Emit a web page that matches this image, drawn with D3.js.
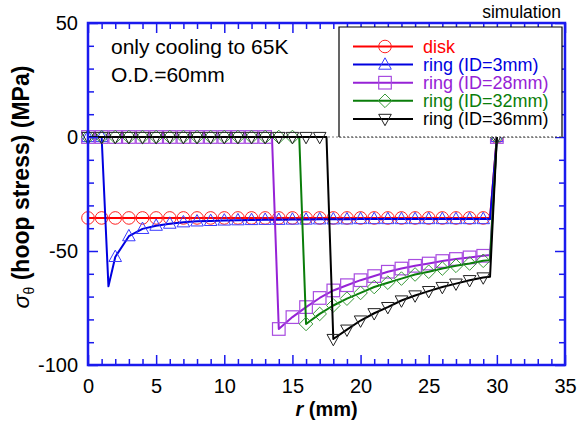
<!DOCTYPE html>
<html>
<head>
<meta charset="utf-8">
<script src="https://cdn.jsdelivr.net/npm/d3@7"></script>
<style>
  body { margin: 0; background: #fff; }
  svg { font-family: "Liberation Sans", Arial, Helvetica, sans-serif; }
</style>
</head>
<body>
<svg id="chart" width="579" height="427"></svg>
<script>
// values (MPa), r in mm
var disk_r = [0,1,2,3,4,5,6,7,8,9,10,11,12,13,14,15,16,17,18,19,20,21,22,23,24,25,26,27,28,29,29.5,30];
var disk_v = [-35.5,-35.5,-35.5,-35.5,-35.5,-35.5,-35.5,-35.5,-35.5,-35.5,-35.5,-35.5,-35.5,-35.5,-35.5,-35.5,
              -35.5,-35.5,-35.5,-35.5,-35.5,-35.5,-35.5,-35.5,-35.5,-35.5,-35.5,-35.5,-35.5,-35.5,-35.5,0];

var ring3_r = [0,1,1.5,2,3,4,5,6,7,8,9,10,11,12,13,14,15,16,17,18,19,20,21,22,23,24,25,26,27,28,29,29.5,30];
var ring3_v = [0,0,-65.5,-52.6,-43.5,-40.3,-38.9,-38,-37.4,-37,-36.8,-36.6,-36.5,-36.4,-36.3,-36.3,-36.2,
               -36.2,-36.1,-36.1,-36.1,-36,-36,-36,-36,-36,-36,-36,-36,-36,-36,-36,0];

var ring28_r = [0,1,2,3,4,5,6,7,8,9,10,11,12,13,13.5,14,15,16,17,18,19,20,21,22,23,24,25,26,27,28,29,29.5,30];
var ring28_v = [0,0,0,0,0,0,0,0,0,0,0,0,0,0,0,-84.2,-79,-74.6,-70.6,-67.3,-65,-62.8,-61,-59.1,-57.7,-56.5,
                -55.5,-54.4,-53.5,-52.8,-52.1,-51.8,0];

var ring32_r = [0,1,2,3,4,5,6,7,8,9,10,11,12,13,14,15,15.5,16,17,18,19,20,21,22,23,24,25,26,27,28,29,29.5,30];
var ring32_v = [0,0,0,0,0,0,0,0,0,0,0,0,0,0,0,0,0,-82,-77.6,-73.9,-70.9,-68.4,-65.8,-63.9,-62.1,-60.3,-59.1,
                -57.7,-56.5,-55.5,-54.3,-54,0];

var ring36_r = [0,1,2,3,4,5,6,7,8,9,10,11,12,13,14,15,16,17,17.5,18,19,20,21,22,23,24,25,26,27,28,29,29.5,30];
var ring36_v = [0,0,0,0,0,0,0,0,0,0,0,0,0,0,0,0,0,0,0,-88.6,-84.5,-80.5,-77.3,-74.6,-71.7,-69.5,-67.6,-65.8,
                -64.3,-62.8,-61.6,-61.3,0];

var labels = ["disk", "ring (ID=3mm)", "ring (ID=28mm)", "ring (ID=32mm)", "ring (ID=36mm)"];
var x_major = [0,5,10,15,20,25,30,35];
var y_major = [-100,-50,0,50];

var series = [
  {name: labels[0], r: disk_r,   v: disk_v,   color: "#ff0000", mcolor: "#ff2020", sym: "circle"},
  {name: labels[1], r: ring3_r,  v: ring3_v,  color: "#0000e0", mcolor: "#3a3aff", sym: "triangle"},
  {name: labels[2], r: ring28_r, v: ring28_v, color: "#9622d6", mcolor: "#a84ce0", sym: "square"},
  {name: labels[3], r: ring32_r, v: ring32_v, color: "#0a7d0a", mcolor: "#3a9a3a", sym: "diamond"},
  {name: labels[4], r: ring36_r, v: ring36_v, color: "#000000", mcolor: "#222222", sym: "invtri"}
];

var svg = d3.select("#chart");
var plotL = 88, plotR = 565, plotT = 23, plotB = 365;
var axisColor = "#1a1aee";

var x = d3.scaleLinear().domain([0, 35]).range([plotL, plotR]);
var y = d3.scaleLinear().domain([-100, 50]).range([plotB, plotT]);

// marker shapes, size ~12px
function marker(g, sym, color) {
  var s = 6.3;
  if (sym == "circle") {
    g.append("circle").attr("r", s).attr("fill", "none").attr("stroke", color).attr("stroke-width", 1);
  } else if (sym == "square") {
    g.append("rect").attr("x", -s).attr("y", -s).attr("width", 2*s).attr("height", 2*s)
      .attr("fill", "none").attr("stroke", color).attr("stroke-width", 1.2);
  } else if (sym == "triangle") {
    g.append("path").attr("d", "M0,-6.8L6.3,4.6L-6.3,4.6Z").attr("fill", "none").attr("stroke", color).attr("stroke-width", 1);
  } else if (sym == "invtri") {
    g.append("path").attr("d", "M0,6.8L6.3,-4.6L-6.3,-4.6Z").attr("fill", "none").attr("stroke", color).attr("stroke-width", 1);
  } else if (sym == "diamond") {
    g.append("path").attr("d", "M0,-6.8L6.8,0L0,6.8L-6.8,0Z").attr("fill", "none").attr("stroke", color).attr("stroke-width", 1);
  }
}

//dotted zero line
svg.append("line")
  .attr("x1", plotL).attr("x2", plotR)
  .attr("y1", y(0)).attr("y2", y(0))
  .attr("stroke", "#777").attr("stroke-width", 1).attr("stroke-dasharray", "2,2");

var line = d3.line().x(function(d) { return x(d[0]); }).y(function(d) { return y(d[1]); });

series.forEach(function(s) {
  var pts = s.r.map(function(r, i) { return [r, s.v[i]]; });
  var g = svg.append("g");
  g.append("path").datum(pts).attr("d", line)
    .attr("fill", "none").attr("stroke", s.color).attr("stroke-width", 2).attr("stroke-linejoin", "round");
  g.selectAll("g.m").data(pts.filter(function(d) { return Number.isInteger(d[0]); }))
    .enter().append("g").attr("class", "m")
    .attr("transform", function(d) { return "translate(" + x(d[0]) + "," + y(d[1]) + ")"; })
    .each(function() { marker(d3.select(this), s.sym, s.mcolor); });
});

// axes: blue frame with inward ticks on all sides
function styleAxis(g) {
  g.select(".domain").remove();
  g.selectAll("line").attr("stroke", axisColor).attr("stroke-width", 1.5);
  g.selectAll("text").attr("fill", "#000").style("font-size", "20px");
}
var fmt = function(d) { return String(d); };   // plain hyphen minus like the original
var x_minor = d3.range(0, 36, 1).filter(function(v) { return v % 5 != 0; });
var y_minor = d3.range(-100, 51, 10).filter(function(v) { return v % 50 != 0; });

svg.append("g").attr("transform", "translate(0," + plotB + ")")
  .call(d3.axisBottom(x).tickValues(x_major).tickSize(-10).tickPadding(14).tickFormat(fmt)).call(styleAxis);
svg.append("g").attr("transform", "translate(0," + plotB + ")")
  .call(d3.axisBottom(x).tickValues(x_minor).tickSize(-6).tickFormat("")).call(styleAxis);
svg.append("g").attr("transform", "translate(0," + plotT + ")")
  .call(d3.axisTop(x).tickValues(x_major).tickSize(-10).tickFormat("")).call(styleAxis);
svg.append("g").attr("transform", "translate(0," + plotT + ")")
  .call(d3.axisTop(x).tickValues(x_minor).tickSize(-6).tickFormat("")).call(styleAxis);
svg.append("g").attr("transform", "translate(" + plotL + ",0)")
  .call(d3.axisLeft(y).tickValues(y_major).tickSize(-10).tickPadding(10).tickFormat(fmt)).call(styleAxis);
svg.append("g").attr("transform", "translate(" + plotL + ",0)")
  .call(d3.axisLeft(y).tickValues(y_minor).tickSize(-6).tickFormat("")).call(styleAxis);
svg.append("g").attr("transform", "translate(" + plotR + ",0)")
  .call(d3.axisRight(y).tickValues(y_major).tickSize(-10).tickFormat("")).call(styleAxis);
svg.append("g").attr("transform", "translate(" + plotR + ",0)")
  .call(d3.axisRight(y).tickValues(y_minor).tickSize(-6).tickFormat("")).call(styleAxis);

svg.append("rect").attr("x", plotL).attr("y", plotT).attr("width", plotR - plotL).attr("height", plotB - plotT)
  .attr("fill", "none").attr("stroke", axisColor).attr("stroke-width", 2.5);

// legend
var lg = svg.append("g");
var lx0 = 339, lx1 = 562, ly0 = 27, ly1 = 137;
lg.append("rect").attr("x", lx0).attr("y", ly0).attr("width", lx1 - lx0).attr("height", ly1 - ly0).attr("fill", "#fff");
lg.append("path").attr("d", "M" + lx0 + "," + ly1 + "V" + ly0 + "H" + lx1 + "V" + ly1)
  .attr("fill", "none").attr("stroke", "#000").attr("stroke-width", 1.2);
lg.append("line").attr("x1", lx0).attr("x2", lx1).attr("y1", ly1).attr("y2", ly1)
  .attr("stroke", "#333").attr("stroke-width", 1.2).attr("stroke-dasharray", "2,2");

series.forEach(function(s, i) {
  var yy = 46.5 + i * 18.1;
  lg.append("line").attr("x1", 353).attr("x2", 413).attr("y1", yy).attr("y2", yy)
    .attr("stroke", s.color).attr("stroke-width", 2);
  var m = lg.append("g").attr("transform", "translate(385," + yy + ")");
  marker(m, s.sym, s.mcolor);
  lg.append("text").attr("x", 423).attr("y", yy + 6.5).text(s.name)
    .attr("fill", s.color).style("font-size", "18px");
});

// annotations
svg.append("text").attr("x", 111).attr("y", 54).text("only cooling to 65K").style("font-size", "21px");
svg.append("text").attr("x", 111).attr("y", 82).text("O.D.=60mm").style("font-size", "21px");
svg.append("text").attr("x", 561).attr("y", 18).attr("text-anchor", "end").text("simulation").style("font-size", "17.5px");

// axis titles
var xt = svg.append("text").attr("x", (plotL + plotR) / 2).attr("y", 416).attr("text-anchor", "middle")
  .style("font-size", "20px").style("font-weight", "bold");
xt.append("tspan").style("font-style", "italic").text("r");
xt.append("tspan").text(" (mm)");

var yt = svg.append("text").attr("transform", "translate(29,187) rotate(-90)")
  .attr("text-anchor", "middle").style("font-size", "23px").style("font-weight", "bold");
yt.append("tspan").style("font-style", "italic").style("font-weight", "normal").text("σ");
yt.append("tspan").attr("dy", 5).style("font-size", "14px").style("font-weight", "normal").text("θ");
yt.append("tspan").attr("dy", -5).text(" (hoop stress) (MPa)");
</script>
</body>
</html>
